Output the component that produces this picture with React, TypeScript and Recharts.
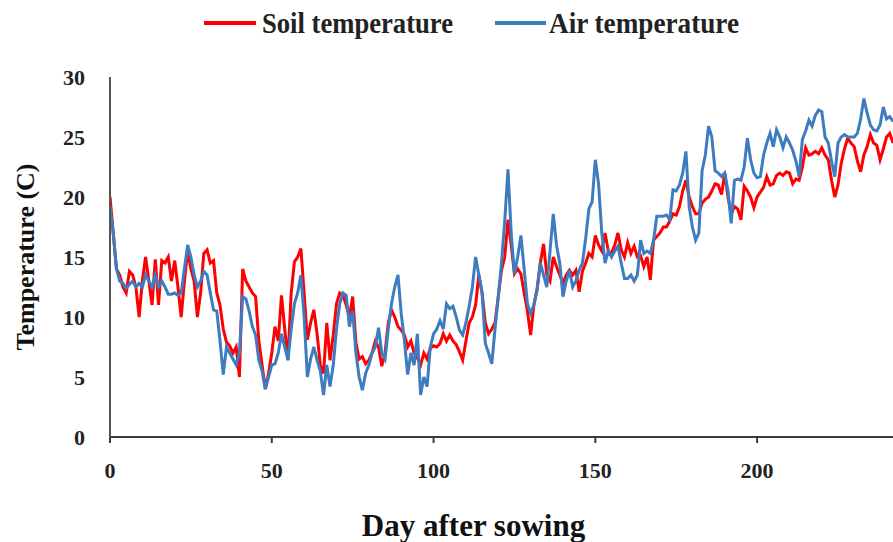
import { useMemo } from "react";
import { LineChart, Line, XAxis, YAxis } from "recharts";

// daily readings, day 0 .. 242
const soilTemp = [
    20, 17, 14, 13.5, 12.5, 12, 13.8, 13.5, 12.5, 10,
    13, 15, 13, 11, 14.8, 11, 14.7, 14.5, 15, 13,
    14.7, 12.5, 10, 13, 15.5, 14, 13, 10, 12, 15.3,
    15.6, 14.5, 14.7, 12, 11, 9, 7.9, 7.6, 7, 7.5,
    5, 14, 13, 12.5, 12, 11.7, 8, 6, 4, 5.3,
    7, 9.2, 8, 11.8, 9, 6.4, 12, 14.6, 15, 15.7,
    12, 8.1, 9.5, 10.6, 8.6, 6, 5.3, 9.5, 6.4, 8.5,
    11.1, 12, 11.8, 11, 10, 11.7, 7.9, 6.5, 6.7, 6.1,
    6.4, 7, 8, 7.5, 5.9, 7, 9.5, 10.6, 10, 9.2,
    8.9, 8.5, 7.5, 8, 7, 6.6, 6, 7, 6.5, 7.4,
    7.6, 7.5, 7.8, 8.6, 8, 8.5, 8, 7.7, 7.1, 6.4,
    8, 9.5, 10, 11, 13.5, 12, 9.5, 8.6, 9, 9.5,
    11.7, 13.9, 15, 18.1, 16, 13.6, 14, 13.6, 12, 10.5,
    8.5, 11, 12.3, 14.5, 16.1, 13.5, 13, 15, 14.2, 13.5,
    12.8, 13.5, 13.9, 13.5, 13.9, 12.1, 13.8, 14.5, 15.3, 15,
    16.8, 16, 15.5, 17, 15.5, 15.3, 16, 17, 15.6, 15,
    16.2, 15.3, 15.9, 15, 15.1, 14.2, 15, 13.1, 16.4, 16.7,
    17, 17.5, 17.5, 18, 18.6, 18.5, 19.2, 20.5, 21.4, 20,
    19.2, 18.6, 18.6, 19.5, 19.8, 20, 20.5, 21.1, 21, 20.2,
    22, 20, 18.6, 19.2, 19, 18.1, 20.9, 20.5, 20, 19.1,
    20, 20.4, 20.8, 21.7, 21, 21.1, 21.8, 22, 21.8, 22.1,
    22, 21.1, 21.5, 21.4, 22.5, 24.1, 23.5, 23.6, 23.8, 23.6,
    24.1, 23.5, 23.1, 21.4, 20, 21, 22.8, 24, 24.9, 24.5,
    24.2, 23, 22.1, 23.5, 24.2, 25.2, 24.5, 24.3, 23.1, 24,
    25, 25.3, 24.5,
];

const airTemp = [
    19.2, 17, 14, 13, 12.8, 12.4, 12.7, 13, 12.5, 12.8,
    12.5, 13.5, 13, 12.5, 13.5, 12.5, 13, 12.5, 11.9, 11.9,
    12, 11.8, 12, 14, 16, 15, 13.5, 12.5, 13, 13.8,
    13.5, 12, 10.6, 10.5, 8, 5.2, 7.5, 7, 6.5, 6,
    7, 11.7, 11.5, 10.5, 9.2, 8.5, 6.4, 5.5, 4, 5,
    6, 6.1, 7, 8.6, 7.5, 6.4, 9, 11.1, 12, 13.5,
    10, 5, 6.5, 7.5, 6.4, 5.5, 3.5, 6, 4.2, 6,
    9, 11.1, 12, 11.8, 9.2, 10.5, 7, 5, 3.9, 5.3,
    6, 7, 7.5, 9.1, 7, 6.5, 9, 11.1, 12.5, 13.5,
    10.3, 8, 5.2, 7, 6, 8.6, 3.5, 5, 4.2, 7.5,
    8.6, 9, 9.7, 9, 11.1, 10.7, 10.9, 10, 8.9, 8.5,
    9.5, 10.9, 12.5, 15, 13.5, 12, 7.8, 7, 6.1, 9,
    11.7, 14.5, 18, 22.3, 17, 13.6, 15, 16.8, 14, 11.1,
    10.3, 11, 12.3, 14.5, 13.5, 12.5, 15.5, 18.6, 16, 14.5,
    11.7, 13, 13.9, 12.5, 13, 13.9, 14.5, 16.5, 19, 19.6,
    23.1, 21.1, 17, 14.5, 15.5, 15, 15.5, 15.9, 14.5, 13.2,
    13.2, 13.5, 13, 13.5, 16.4, 15.3, 15.5, 15.3, 16.4, 18.4,
    18.4, 18.4, 18.5, 18.1, 20.6, 20.5, 21, 22, 23.8, 19.2,
    17.5, 16.4, 17, 22.2, 23.5, 25.9, 25, 22.2, 22, 21.7,
    22, 20.5, 17.8, 21.4, 21.5, 21.4, 22.5, 24.9, 23.1, 22,
    21.6, 21.7, 23.5, 24.5, 25.3, 24.2, 25.6, 25, 24.1, 25,
    24.5, 23.9, 23, 21.7, 24.8, 25.5, 26.4, 25.9, 26.8, 27.25,
    27.1, 25, 24.5, 23, 21.7, 24.5, 25, 25.2, 25, 25,
    25, 25.3, 26.5, 28.2, 27, 26, 25.6, 25.5, 26, 27.5,
    26.5, 26.7, 26.3,
];

const dayTicks = [0, 50, 100, 150, 200];
const tempTicks = [0, 5, 10, 15, 20, 25, 30];

const FONT = "'Liberation Serif', 'Times New Roman', serif";
const SOIL_COLOR = "#ff0000";
const AIR_COLOR = "#3d7cc0";

const tickStyle = { fontFamily: FONT, fontWeight: 700, fontSize: 22, fill: "#222" };

function TopLegend() {
    return (
        <svg width={893} height={50} style={{ position: "absolute", left: 0, top: 0 }}>
            <line x1={204} y1={23} x2={256} y2={23} stroke={SOIL_COLOR} strokeWidth={4} />
            <text x={262} y={33} fontFamily={FONT} fontWeight={700} fontSize={29} fill="#222"
                textLength={191} lengthAdjust="spacingAndGlyphs">Soil temperature</text>
            <line x1={495} y1={23} x2={546} y2={23} stroke={AIR_COLOR} strokeWidth={4} />
            <text x={549} y={33} fontFamily={FONT} fontWeight={700} fontSize={29} fill="#222"
                textLength={190} lengthAdjust="spacingAndGlyphs">Air temperature</text>
        </svg>
    );
}

export default function App() {
    const data = useMemo(
        () => soilTemp.map((soil, day) => ({ day, soil, air: airTemp[day] })),
        []
    );

    return (
        <div style={{ position: "absolute", left: 0, top: 0, width: 893, height: 542, background: "#fff" }}>
            <LineChart width={893} height={542} data={data} margin={{ top: 77, right: 0, bottom: 0, left: 0 }}>
                <XAxis
                    dataKey="day"
                    type="number"
                    domain={[0, 242]}
                    ticks={dayTicks}
                    allowDataOverflow
                    height={105}
                    stroke="#3a3a3a"
                    strokeWidth={2}
                    tickSize={6}
                    tickMargin={19}
                    tick={tickStyle}
                    label={{
                        value: "Day after sowing",
                        position: "center",
                        dx: -28,
                        dy: 35,
                        style: { fontFamily: FONT, fontWeight: 700, fontSize: 31, fill: "#111" },
                    }}
                />
                <YAxis
                    type="number"
                    domain={[0, 30]}
                    ticks={tempTicks}
                    width={110}
                    stroke="#555"
                    strokeWidth={2}
                    tickLine={false}
                    tickSize={0}
                    tickMargin={25}
                    tick={tickStyle}
                    label={{
                        value: "Temperature (C)",
                        angle: -90,
                        position: "center",
                        dx: -30,
                        style: { fontFamily: FONT, fontWeight: 700, fontSize: 26, fill: "#111" },
                    }}
                />
                <Line type="linear" dataKey="soil" stroke={SOIL_COLOR} strokeWidth={3} dot={false} isAnimationActive={false} />
                <Line type="linear" dataKey="air" stroke={AIR_COLOR} strokeWidth={3} dot={false} isAnimationActive={false} />
            </LineChart>
            <TopLegend />
        </div>
    );
}
